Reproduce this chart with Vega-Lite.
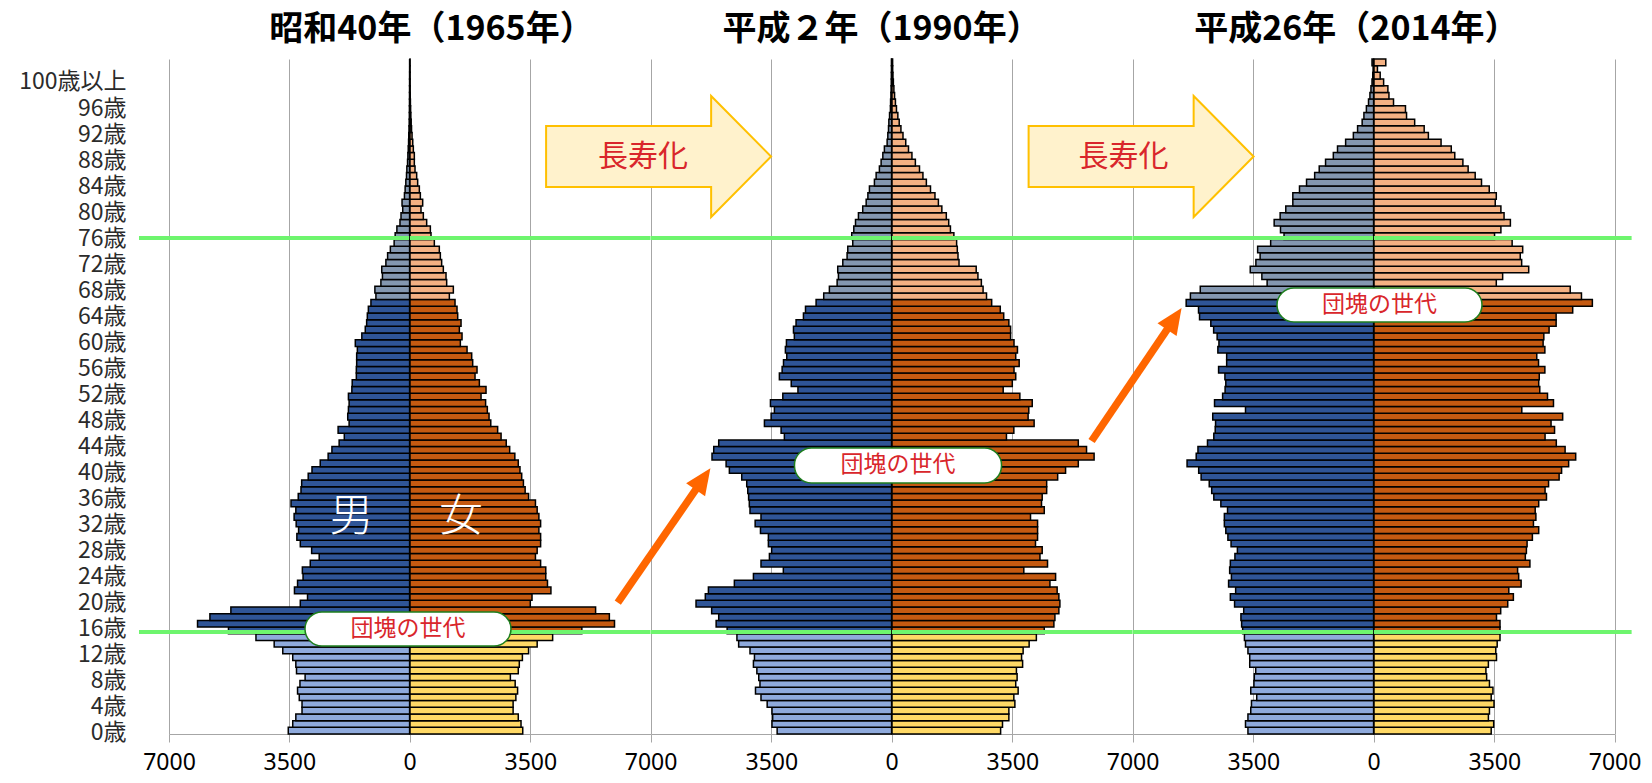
{
"$schema": "https://vega.github.io/schema/vega-lite/v6.json",
"padding": {"left": 18, "top": 12, "right": 0, "bottom": 12},
"background": "white",
"bounds": "flush",
"spacing": 0,
"config": {
  "font": "Noto Sans CJK JP",
  "numberFormat": "d",
  "view": {"stroke": null},
  "axisX": {"grid": true, "gridColor": "#A6A6A6", "gridWidth": 1, "domainColor": "#A6A6A6", "tickColor": "#A6A6A6", "tickSize": 8, "labelFontSize": 23, "labelFont": "Noto Sans", "labelColor": "#000000", "labelPadding": 9, "labelFlush": false, "labelOverlap": false, "labelBound": false}
},
"datasets": {"pop": [
{"year":1965,"sex":"M","age":0,"pop":3530},{"year":1965,"sex":"M","age":1,"pop":3400},{"year":1965,"sex":"M","age":2,"pop":3310},{"year":1965,"sex":"M","age":3,"pop":3130},{"year":1965,"sex":"M","age":4,"pop":3130},{"year":1965,"sex":"M","age":5,"pop":3210},{"year":1965,"sex":"M","age":6,"pop":3260},{"year":1965,"sex":"M","age":7,"pop":3190},{"year":1965,"sex":"M","age":8,"pop":3040},{"year":1965,"sex":"M","age":9,"pop":3290},
{"year":1965,"sex":"M","age":10,"pop":3310},{"year":1965,"sex":"M","age":11,"pop":3400},{"year":1965,"sex":"M","age":12,"pop":3690},{"year":1965,"sex":"M","age":13,"pop":3940},{"year":1965,"sex":"M","age":14,"pop":4470},{"year":1965,"sex":"M","age":15,"pop":5270},{"year":1965,"sex":"M","age":16,"pop":6170},{"year":1965,"sex":"M","age":17,"pop":5810},{"year":1965,"sex":"M","age":18,"pop":5200},{"year":1965,"sex":"M","age":19,"pop":3180},
{"year":1965,"sex":"M","age":20,"pop":2970},{"year":1965,"sex":"M","age":21,"pop":3350},{"year":1965,"sex":"M","age":22,"pop":3260},{"year":1965,"sex":"M","age":23,"pop":3100},{"year":1965,"sex":"M","age":24,"pop":3120},{"year":1965,"sex":"M","age":25,"pop":2890},{"year":1965,"sex":"M","age":26,"pop":2630},{"year":1965,"sex":"M","age":27,"pop":2850},{"year":1965,"sex":"M","age":28,"pop":3180},{"year":1965,"sex":"M","age":29,"pop":3280},
{"year":1965,"sex":"M","age":30,"pop":3230},{"year":1965,"sex":"M","age":31,"pop":3300},{"year":1965,"sex":"M","age":32,"pop":3360},{"year":1965,"sex":"M","age":33,"pop":3310},{"year":1965,"sex":"M","age":34,"pop":3450},{"year":1965,"sex":"M","age":35,"pop":3240},{"year":1965,"sex":"M","age":36,"pop":3160},{"year":1965,"sex":"M","age":37,"pop":3140},{"year":1965,"sex":"M","age":38,"pop":2950},{"year":1965,"sex":"M","age":39,"pop":2840},
{"year":1965,"sex":"M","age":40,"pop":2600},{"year":1965,"sex":"M","age":41,"pop":2370},{"year":1965,"sex":"M","age":42,"pop":2260},{"year":1965,"sex":"M","age":43,"pop":2050},{"year":1965,"sex":"M","age":44,"pop":1900},{"year":1965,"sex":"M","age":45,"pop":2080},{"year":1965,"sex":"M","age":46,"pop":1760},{"year":1965,"sex":"M","age":47,"pop":1800},{"year":1965,"sex":"M","age":48,"pop":1780},{"year":1965,"sex":"M","age":49,"pop":1760},
{"year":1965,"sex":"M","age":50,"pop":1780},{"year":1965,"sex":"M","age":51,"pop":1680},{"year":1965,"sex":"M","age":52,"pop":1670},{"year":1965,"sex":"M","age":53,"pop":1550},{"year":1965,"sex":"M","age":54,"pop":1550},{"year":1965,"sex":"M","age":55,"pop":1540},{"year":1965,"sex":"M","age":56,"pop":1540},{"year":1965,"sex":"M","age":57,"pop":1520},{"year":1965,"sex":"M","age":58,"pop":1580},{"year":1965,"sex":"M","age":59,"pop":1390},
{"year":1965,"sex":"M","age":60,"pop":1290},{"year":1965,"sex":"M","age":61,"pop":1250},{"year":1965,"sex":"M","age":62,"pop":1230},{"year":1965,"sex":"M","age":63,"pop":1200},{"year":1965,"sex":"M","age":64,"pop":1125},{"year":1965,"sex":"M","age":65,"pop":980},{"year":1965,"sex":"M","age":66,"pop":1010},{"year":1965,"sex":"M","age":67,"pop":835},{"year":1965,"sex":"M","age":68,"pop":790},{"year":1965,"sex":"M","age":69,"pop":810},
{"year":1965,"sex":"M","age":70,"pop":690},{"year":1965,"sex":"M","age":71,"pop":640},{"year":1965,"sex":"M","age":72,"pop":560},{"year":1965,"sex":"M","age":73,"pop":450},{"year":1965,"sex":"M","age":74,"pop":420},{"year":1965,"sex":"M","age":75,"pop":370},{"year":1965,"sex":"M","age":76,"pop":280},{"year":1965,"sex":"M","age":77,"pop":250},{"year":1965,"sex":"M","age":78,"pop":200},{"year":1965,"sex":"M","age":79,"pop":220},
{"year":1965,"sex":"M","age":80,"pop":150},{"year":1965,"sex":"M","age":81,"pop":130},{"year":1965,"sex":"M","age":82,"pop":110},{"year":1965,"sex":"M","age":83,"pop":90},{"year":1965,"sex":"M","age":84,"pop":80},{"year":1965,"sex":"M","age":85,"pop":60},{"year":1965,"sex":"M","age":86,"pop":50},{"year":1965,"sex":"M","age":87,"pop":40},{"year":1965,"sex":"M","age":88,"pop":30},{"year":1965,"sex":"M","age":89,"pop":25},
{"year":1965,"sex":"M","age":90,"pop":18},{"year":1965,"sex":"M","age":91,"pop":12},{"year":1965,"sex":"M","age":92,"pop":8},{"year":1965,"sex":"M","age":93,"pop":6},{"year":1965,"sex":"M","age":94,"pop":4},{"year":1965,"sex":"M","age":95,"pop":3},{"year":1965,"sex":"M","age":96,"pop":2},{"year":1965,"sex":"M","age":97,"pop":1},{"year":1965,"sex":"M","age":98,"pop":1},{"year":1965,"sex":"M","age":99,"pop":0},{"year":1965,"sex":"M","age":100,"pop":0},
{"year":1965,"sex":"F","age":0,"pop":3280},{"year":1965,"sex":"F","age":1,"pop":3230},{"year":1965,"sex":"F","age":2,"pop":3150},{"year":1965,"sex":"F","age":3,"pop":3000},{"year":1965,"sex":"F","age":4,"pop":3000},{"year":1965,"sex":"F","age":5,"pop":3080},{"year":1965,"sex":"F","age":6,"pop":3130},{"year":1965,"sex":"F","age":7,"pop":3060},{"year":1965,"sex":"F","age":8,"pop":2920},{"year":1965,"sex":"F","age":9,"pop":3150},
{"year":1965,"sex":"F","age":10,"pop":3180},{"year":1965,"sex":"F","age":11,"pop":3270},{"year":1965,"sex":"F","age":12,"pop":3450},{"year":1965,"sex":"F","age":13,"pop":3700},{"year":1965,"sex":"F","age":14,"pop":4150},{"year":1965,"sex":"F","age":15,"pop":5000},{"year":1965,"sex":"F","age":16,"pop":5950},{"year":1965,"sex":"F","age":17,"pop":5800},{"year":1965,"sex":"F","age":18,"pop":5400},{"year":1965,"sex":"F","age":19,"pop":3500},
{"year":1965,"sex":"F","age":20,"pop":3550},{"year":1965,"sex":"F","age":21,"pop":4100},{"year":1965,"sex":"F","age":22,"pop":4000},{"year":1965,"sex":"F","age":23,"pop":3950},{"year":1965,"sex":"F","age":24,"pop":3950},{"year":1965,"sex":"F","age":25,"pop":3800},{"year":1965,"sex":"F","age":26,"pop":3650},{"year":1965,"sex":"F","age":27,"pop":3700},{"year":1965,"sex":"F","age":28,"pop":3800},{"year":1965,"sex":"F","age":29,"pop":3800},
{"year":1965,"sex":"F","age":30,"pop":3750},{"year":1965,"sex":"F","age":31,"pop":3800},{"year":1965,"sex":"F","age":32,"pop":3750},{"year":1965,"sex":"F","age":33,"pop":3700},{"year":1965,"sex":"F","age":34,"pop":3650},{"year":1965,"sex":"F","age":35,"pop":3450},{"year":1965,"sex":"F","age":36,"pop":3350},{"year":1965,"sex":"F","age":37,"pop":3300},{"year":1965,"sex":"F","age":38,"pop":3250},{"year":1965,"sex":"F","age":39,"pop":3200},
{"year":1965,"sex":"F","age":40,"pop":3150},{"year":1965,"sex":"F","age":41,"pop":3050},{"year":1965,"sex":"F","age":42,"pop":2900},{"year":1965,"sex":"F","age":43,"pop":2800},{"year":1965,"sex":"F","age":44,"pop":2650},{"year":1965,"sex":"F","age":45,"pop":2550},{"year":1965,"sex":"F","age":46,"pop":2350},{"year":1965,"sex":"F","age":47,"pop":2300},{"year":1965,"sex":"F","age":48,"pop":2250},{"year":1965,"sex":"F","age":49,"pop":2200},
{"year":1965,"sex":"F","age":50,"pop":2067},{"year":1965,"sex":"F","age":51,"pop":2212},{"year":1965,"sex":"F","age":52,"pop":2018},{"year":1965,"sex":"F","age":53,"pop":1892},{"year":1965,"sex":"F","age":54,"pop":1950},{"year":1965,"sex":"F","age":55,"pop":1824},{"year":1965,"sex":"F","age":56,"pop":1795},{"year":1965,"sex":"F","age":57,"pop":1660},{"year":1965,"sex":"F","age":58,"pop":1465},{"year":1965,"sex":"F","age":59,"pop":1514},
{"year":1965,"sex":"F","age":60,"pop":1436},{"year":1965,"sex":"F","age":61,"pop":1485},{"year":1965,"sex":"F","age":62,"pop":1388},{"year":1965,"sex":"F","age":63,"pop":1368},{"year":1965,"sex":"F","age":64,"pop":1310},{"year":1965,"sex":"F","age":65,"pop":1145},{"year":1965,"sex":"F","age":66,"pop":1261},{"year":1965,"sex":"F","age":67,"pop":1067},{"year":1965,"sex":"F","age":68,"pop":1048},{"year":1965,"sex":"F","age":69,"pop":970},
{"year":1965,"sex":"F","age":70,"pop":921},{"year":1965,"sex":"F","age":71,"pop":883},{"year":1965,"sex":"F","age":72,"pop":853},{"year":1965,"sex":"F","age":73,"pop":708},{"year":1965,"sex":"F","age":74,"pop":611},{"year":1965,"sex":"F","age":75,"pop":592},{"year":1965,"sex":"F","age":76,"pop":485},{"year":1965,"sex":"F","age":77,"pop":388},{"year":1965,"sex":"F","age":78,"pop":320},{"year":1965,"sex":"F","age":79,"pop":369},
{"year":1965,"sex":"F","age":80,"pop":301},{"year":1965,"sex":"F","age":81,"pop":272},{"year":1965,"sex":"F","age":82,"pop":223},{"year":1965,"sex":"F","age":83,"pop":194},{"year":1965,"sex":"F","age":84,"pop":146},{"year":1965,"sex":"F","age":85,"pop":126},{"year":1965,"sex":"F","age":86,"pop":126},{"year":1965,"sex":"F","age":87,"pop":97},{"year":1965,"sex":"F","age":88,"pop":80},{"year":1965,"sex":"F","age":89,"pop":60},
{"year":1965,"sex":"F","age":90,"pop":45},{"year":1965,"sex":"F","age":91,"pop":35},{"year":1965,"sex":"F","age":92,"pop":25},{"year":1965,"sex":"F","age":93,"pop":18},{"year":1965,"sex":"F","age":94,"pop":12},{"year":1965,"sex":"F","age":95,"pop":8},{"year":1965,"sex":"F","age":96,"pop":5},{"year":1965,"sex":"F","age":97,"pop":3},{"year":1965,"sex":"F","age":98,"pop":2},{"year":1965,"sex":"F","age":99,"pop":1},{"year":1965,"sex":"F","age":100,"pop":1},
{"year":1990,"sex":"M","age":0,"pop":3330},{"year":1990,"sex":"M","age":1,"pop":3480},{"year":1990,"sex":"M","age":2,"pop":3460},{"year":1990,"sex":"M","age":3,"pop":3480},{"year":1990,"sex":"M","age":4,"pop":3620},{"year":1990,"sex":"M","age":5,"pop":3800},{"year":1990,"sex":"M","age":6,"pop":3960},{"year":1990,"sex":"M","age":7,"pop":3830},{"year":1990,"sex":"M","age":8,"pop":3865},{"year":1990,"sex":"M","age":9,"pop":3920},
{"year":1990,"sex":"M","age":10,"pop":4020},{"year":1990,"sex":"M","age":11,"pop":3990},{"year":1990,"sex":"M","age":12,"pop":4120},{"year":1990,"sex":"M","age":13,"pop":4450},{"year":1990,"sex":"M","age":14,"pop":4500},{"year":1990,"sex":"M","age":15,"pop":4785},{"year":1990,"sex":"M","age":16,"pop":5105},{"year":1990,"sex":"M","age":17,"pop":5030},{"year":1990,"sex":"M","age":18,"pop":5235},{"year":1990,"sex":"M","age":19,"pop":5690},
{"year":1990,"sex":"M","age":20,"pop":5420},{"year":1990,"sex":"M","age":21,"pop":5330},{"year":1990,"sex":"M","age":22,"pop":4575},{"year":1990,"sex":"M","age":23,"pop":4020},{"year":1990,"sex":"M","age":24,"pop":3150},{"year":1990,"sex":"M","age":25,"pop":3800},{"year":1990,"sex":"M","age":26,"pop":3555},{"year":1990,"sex":"M","age":27,"pop":3490},{"year":1990,"sex":"M","age":28,"pop":3585},{"year":1990,"sex":"M","age":29,"pop":3585},
{"year":1990,"sex":"M","age":30,"pop":3815},{"year":1990,"sex":"M","age":31,"pop":3970},{"year":1990,"sex":"M","age":32,"pop":3800},{"year":1990,"sex":"M","age":33,"pop":4120},{"year":1990,"sex":"M","age":34,"pop":4140},{"year":1990,"sex":"M","age":35,"pop":4160},{"year":1990,"sex":"M","age":36,"pop":4185},{"year":1990,"sex":"M","age":37,"pop":4215},{"year":1990,"sex":"M","age":38,"pop":4360},{"year":1990,"sex":"M","age":39,"pop":4720},
{"year":1990,"sex":"M","age":40,"pop":4815},{"year":1990,"sex":"M","age":41,"pop":5225},{"year":1990,"sex":"M","age":42,"pop":5175},{"year":1990,"sex":"M","age":43,"pop":5030},{"year":1990,"sex":"M","age":44,"pop":3120},{"year":1990,"sex":"M","age":45,"pop":3215},{"year":1990,"sex":"M","age":46,"pop":3700},{"year":1990,"sex":"M","age":47,"pop":3505},{"year":1990,"sex":"M","age":48,"pop":3410},{"year":1990,"sex":"M","age":49,"pop":3525},
{"year":1990,"sex":"M","age":50,"pop":3165},{"year":1990,"sex":"M","age":51,"pop":2725},{"year":1990,"sex":"M","age":52,"pop":2920},{"year":1990,"sex":"M","age":53,"pop":3265},{"year":1990,"sex":"M","age":54,"pop":3185},{"year":1990,"sex":"M","age":55,"pop":3145},{"year":1990,"sex":"M","age":56,"pop":3050},{"year":1990,"sex":"M","age":57,"pop":3090},{"year":1990,"sex":"M","age":58,"pop":3060},{"year":1990,"sex":"M","age":59,"pop":2830},
{"year":1990,"sex":"M","age":60,"pop":2855},{"year":1990,"sex":"M","age":61,"pop":2780},{"year":1990,"sex":"M","age":62,"pop":2565},{"year":1990,"sex":"M","age":63,"pop":2505},{"year":1990,"sex":"M","age":64,"pop":2197},{"year":1990,"sex":"M","age":65,"pop":1975},{"year":1990,"sex":"M","age":66,"pop":1810},{"year":1990,"sex":"M","age":67,"pop":1585},{"year":1990,"sex":"M","age":68,"pop":1547},{"year":1990,"sex":"M","age":69,"pop":1567},
{"year":1990,"sex":"M","age":70,"pop":1420},{"year":1990,"sex":"M","age":71,"pop":1295},{"year":1990,"sex":"M","age":72,"pop":1275},{"year":1990,"sex":"M","age":73,"pop":1130},{"year":1990,"sex":"M","age":74,"pop":1160},{"year":1990,"sex":"M","age":75,"pop":1100},{"year":1990,"sex":"M","age":76,"pop":1050},{"year":1990,"sex":"M","age":77,"pop":965},{"year":1990,"sex":"M","age":78,"pop":840},{"year":1990,"sex":"M","age":79,"pop":740},
{"year":1990,"sex":"M","age":80,"pop":690},{"year":1990,"sex":"M","age":81,"pop":645},{"year":1990,"sex":"M","age":82,"pop":500},{"year":1990,"sex":"M","age":83,"pop":450},{"year":1990,"sex":"M","age":84,"pop":355},{"year":1990,"sex":"M","age":85,"pop":305},{"year":1990,"sex":"M","age":86,"pop":255},{"year":1990,"sex":"M","age":87,"pop":210},{"year":1990,"sex":"M","age":88,"pop":130},{"year":1990,"sex":"M","age":89,"pop":110},
{"year":1990,"sex":"M","age":90,"pop":90},{"year":1990,"sex":"M","age":91,"pop":80},{"year":1990,"sex":"M","age":92,"pop":60},{"year":1990,"sex":"M","age":93,"pop":35},{"year":1990,"sex":"M","age":94,"pop":30},{"year":1990,"sex":"M","age":95,"pop":20},{"year":1990,"sex":"M","age":96,"pop":15},{"year":1990,"sex":"M","age":97,"pop":10},{"year":1990,"sex":"M","age":98,"pop":8},{"year":1990,"sex":"M","age":99,"pop":5},{"year":1990,"sex":"M","age":100,"pop":5},
{"year":1990,"sex":"F","age":0,"pop":3160},{"year":1990,"sex":"F","age":1,"pop":3215},{"year":1990,"sex":"F","age":2,"pop":3400},{"year":1990,"sex":"F","age":3,"pop":3400},{"year":1990,"sex":"F","age":4,"pop":3575},{"year":1990,"sex":"F","age":5,"pop":3545},{"year":1990,"sex":"F","age":6,"pop":3670},{"year":1990,"sex":"F","age":7,"pop":3600},{"year":1990,"sex":"F","age":8,"pop":3640},{"year":1990,"sex":"F","age":9,"pop":3620},
{"year":1990,"sex":"F","age":10,"pop":3800},{"year":1990,"sex":"F","age":11,"pop":3770},{"year":1990,"sex":"F","age":12,"pop":3815},{"year":1990,"sex":"F","age":13,"pop":3990},{"year":1990,"sex":"F","age":14,"pop":4200},{"year":1990,"sex":"F","age":15,"pop":4430},{"year":1990,"sex":"F","age":16,"pop":4710},{"year":1990,"sex":"F","age":17,"pop":4740},{"year":1990,"sex":"F","age":18,"pop":4855},{"year":1990,"sex":"F","age":19,"pop":4885},
{"year":1990,"sex":"F","age":20,"pop":4855},{"year":1990,"sex":"F","age":21,"pop":4805},{"year":1990,"sex":"F","age":22,"pop":4595},{"year":1990,"sex":"F","age":23,"pop":4760},{"year":1990,"sex":"F","age":24,"pop":3835},{"year":1990,"sex":"F","age":25,"pop":4525},{"year":1990,"sex":"F","age":26,"pop":4305},{"year":1990,"sex":"F","age":27,"pop":4370},{"year":1990,"sex":"F","age":28,"pop":4175},{"year":1990,"sex":"F","age":29,"pop":4235},
{"year":1990,"sex":"F","age":30,"pop":4235},{"year":1990,"sex":"F","age":31,"pop":4235},{"year":1990,"sex":"F","age":32,"pop":4030},{"year":1990,"sex":"F","age":33,"pop":4430},{"year":1990,"sex":"F","age":34,"pop":4350},{"year":1990,"sex":"F","age":35,"pop":4370},{"year":1990,"sex":"F","age":36,"pop":4500},{"year":1990,"sex":"F","age":37,"pop":4500},{"year":1990,"sex":"F","age":38,"pop":4820},{"year":1990,"sex":"F","age":39,"pop":5050},
{"year":1990,"sex":"F","age":40,"pop":5420},{"year":1990,"sex":"F","age":41,"pop":5880},{"year":1990,"sex":"F","age":42,"pop":5660},{"year":1990,"sex":"F","age":43,"pop":5420},{"year":1990,"sex":"F","age":44,"pop":3330},{"year":1990,"sex":"F","age":45,"pop":3545},{"year":1990,"sex":"F","age":46,"pop":4135},{"year":1990,"sex":"F","age":47,"pop":3960},{"year":1990,"sex":"F","age":48,"pop":3980},{"year":1990,"sex":"F","age":49,"pop":4080},
{"year":1990,"sex":"F","age":50,"pop":3720},{"year":1990,"sex":"F","age":51,"pop":3235},{"year":1990,"sex":"F","age":52,"pop":3500},{"year":1990,"sex":"F","age":53,"pop":3600},{"year":1990,"sex":"F","age":54,"pop":3550},{"year":1990,"sex":"F","age":55,"pop":3700},{"year":1990,"sex":"F","age":56,"pop":3600},{"year":1990,"sex":"F","age":57,"pop":3650},{"year":1990,"sex":"F","age":58,"pop":3550},{"year":1990,"sex":"F","age":59,"pop":3450},
{"year":1990,"sex":"F","age":60,"pop":3450},{"year":1990,"sex":"F","age":61,"pop":3400},{"year":1990,"sex":"F","age":62,"pop":3250},{"year":1990,"sex":"F","age":63,"pop":3150},{"year":1990,"sex":"F","age":64,"pop":2900},{"year":1990,"sex":"F","age":65,"pop":2750},{"year":1990,"sex":"F","age":66,"pop":2650},{"year":1990,"sex":"F","age":67,"pop":2600},{"year":1990,"sex":"F","age":68,"pop":2500},{"year":1990,"sex":"F","age":69,"pop":2450},
{"year":1990,"sex":"F","age":70,"pop":1950},{"year":1990,"sex":"F","age":71,"pop":1920},{"year":1990,"sex":"F","age":72,"pop":1900},{"year":1990,"sex":"F","age":73,"pop":1880},{"year":1990,"sex":"F","age":74,"pop":1800},{"year":1990,"sex":"F","age":75,"pop":1700},{"year":1990,"sex":"F","age":76,"pop":1650},{"year":1990,"sex":"F","age":77,"pop":1580},{"year":1990,"sex":"F","age":78,"pop":1450},{"year":1990,"sex":"F","age":79,"pop":1350},
{"year":1990,"sex":"F","age":80,"pop":1250},{"year":1990,"sex":"F","age":81,"pop":1120},{"year":1990,"sex":"F","age":82,"pop":1000},{"year":1990,"sex":"F","age":83,"pop":900},{"year":1990,"sex":"F","age":84,"pop":800},{"year":1990,"sex":"F","age":85,"pop":680},{"year":1990,"sex":"F","age":86,"pop":580},{"year":1990,"sex":"F","age":87,"pop":480},{"year":1990,"sex":"F","age":88,"pop":400},{"year":1990,"sex":"F","age":89,"pop":320},
{"year":1990,"sex":"F","age":90,"pop":260},{"year":1990,"sex":"F","age":91,"pop":210},{"year":1990,"sex":"F","age":92,"pop":170},{"year":1990,"sex":"F","age":93,"pop":130},{"year":1990,"sex":"F","age":94,"pop":100},{"year":1990,"sex":"F","age":95,"pop":75},{"year":1990,"sex":"F","age":96,"pop":55},{"year":1990,"sex":"F","age":97,"pop":40},{"year":1990,"sex":"F","age":98,"pop":28},{"year":1990,"sex":"F","age":99,"pop":20},{"year":1990,"sex":"F","age":100,"pop":18},
{"year":2014,"sex":"M","age":0,"pop":3656},{"year":2014,"sex":"M","age":1,"pop":3727},{"year":2014,"sex":"M","age":2,"pop":3656},{"year":2014,"sex":"M","age":3,"pop":3574},{"year":2014,"sex":"M","age":4,"pop":3553},{"year":2014,"sex":"M","age":5,"pop":3400},{"year":2014,"sex":"M","age":6,"pop":3574},{"year":2014,"sex":"M","age":7,"pop":3482},{"year":2014,"sex":"M","age":8,"pop":3471},{"year":2014,"sex":"M","age":9,"pop":3430},
{"year":2014,"sex":"M","age":10,"pop":3604},{"year":2014,"sex":"M","age":11,"pop":3604},{"year":2014,"sex":"M","age":12,"pop":3656},{"year":2014,"sex":"M","age":13,"pop":3727},{"year":2014,"sex":"M","age":14,"pop":3758},{"year":2014,"sex":"M","age":15,"pop":3810},{"year":2014,"sex":"M","age":16,"pop":3840},{"year":2014,"sex":"M","age":17,"pop":3860},{"year":2014,"sex":"M","age":18,"pop":3779},{"year":2014,"sex":"M","age":19,"pop":4045},
{"year":2014,"sex":"M","age":20,"pop":4168},{"year":2014,"sex":"M","age":21,"pop":4014},{"year":2014,"sex":"M","age":22,"pop":4219},{"year":2014,"sex":"M","age":23,"pop":4137},{"year":2014,"sex":"M","age":24,"pop":4188},{"year":2014,"sex":"M","age":25,"pop":4168},{"year":2014,"sex":"M","age":26,"pop":4035},{"year":2014,"sex":"M","age":27,"pop":3963},{"year":2014,"sex":"M","age":28,"pop":4147},{"year":2014,"sex":"M","age":29,"pop":4239},
{"year":2014,"sex":"M","age":30,"pop":4300},{"year":2014,"sex":"M","age":31,"pop":4342},{"year":2014,"sex":"M","age":32,"pop":4342},{"year":2014,"sex":"M","age":33,"pop":4250},{"year":2014,"sex":"M","age":34,"pop":4444},{"year":2014,"sex":"M","age":35,"pop":4649},{"year":2014,"sex":"M","age":36,"pop":4710},{"year":2014,"sex":"M","age":37,"pop":4782},{"year":2014,"sex":"M","age":38,"pop":5018},{"year":2014,"sex":"M","age":39,"pop":5089},
{"year":2014,"sex":"M","age":40,"pop":5427},{"year":2014,"sex":"M","age":41,"pop":5161},{"year":2014,"sex":"M","age":42,"pop":5110},{"year":2014,"sex":"M","age":43,"pop":4833},{"year":2014,"sex":"M","age":44,"pop":4649},{"year":2014,"sex":"M","age":45,"pop":4608},{"year":2014,"sex":"M","age":46,"pop":4598},{"year":2014,"sex":"M","age":47,"pop":4680},{"year":2014,"sex":"M","age":48,"pop":3727},{"year":2014,"sex":"M","age":49,"pop":4628},
{"year":2014,"sex":"M","age":50,"pop":4393},{"year":2014,"sex":"M","age":51,"pop":4321},{"year":2014,"sex":"M","age":52,"pop":4300},{"year":2014,"sex":"M","age":53,"pop":4326},{"year":2014,"sex":"M","age":54,"pop":4510},{"year":2014,"sex":"M","age":55,"pop":4275},{"year":2014,"sex":"M","age":56,"pop":4275},{"year":2014,"sex":"M","age":57,"pop":4531},{"year":2014,"sex":"M","age":58,"pop":4500},{"year":2014,"sex":"M","age":59,"pop":4552},
{"year":2014,"sex":"M","age":60,"pop":4654},{"year":2014,"sex":"M","age":61,"pop":4736},{"year":2014,"sex":"M","age":62,"pop":5064},{"year":2014,"sex":"M","age":63,"pop":5094},{"year":2014,"sex":"M","age":64,"pop":5453},{"year":2014,"sex":"M","age":65,"pop":5330},{"year":2014,"sex":"M","age":66,"pop":5043},{"year":2014,"sex":"M","age":67,"pop":3098},{"year":2014,"sex":"M","age":68,"pop":3251},{"year":2014,"sex":"M","age":69,"pop":3589},
{"year":2014,"sex":"M","age":70,"pop":3425},{"year":2014,"sex":"M","age":71,"pop":3302},{"year":2014,"sex":"M","age":72,"pop":3374},{"year":2014,"sex":"M","age":73,"pop":2995},{"year":2014,"sex":"M","age":74,"pop":2606},{"year":2014,"sex":"M","age":75,"pop":2709},{"year":2014,"sex":"M","age":76,"pop":2893},{"year":2014,"sex":"M","age":77,"pop":2719},{"year":2014,"sex":"M","age":78,"pop":2555},{"year":2014,"sex":"M","age":79,"pop":2350},
{"year":2014,"sex":"M","age":80,"pop":2350},{"year":2014,"sex":"M","age":81,"pop":2156},{"year":2014,"sex":"M","age":82,"pop":1951},{"year":2014,"sex":"M","age":83,"pop":1715},{"year":2014,"sex":"M","age":84,"pop":1582},{"year":2014,"sex":"M","age":85,"pop":1398},{"year":2014,"sex":"M","age":86,"pop":1172},{"year":2014,"sex":"M","age":87,"pop":1050},{"year":2014,"sex":"M","age":88,"pop":814},{"year":2014,"sex":"M","age":89,"pop":589},
{"year":2014,"sex":"M","age":90,"pop":466},{"year":2014,"sex":"M","age":91,"pop":333},{"year":2014,"sex":"M","age":92,"pop":282},{"year":2014,"sex":"M","age":93,"pop":210},{"year":2014,"sex":"M","age":94,"pop":148},{"year":2014,"sex":"M","age":95,"pop":107},{"year":2014,"sex":"M","age":96,"pop":77},{"year":2014,"sex":"M","age":97,"pop":46},{"year":2014,"sex":"M","age":98,"pop":25},{"year":2014,"sex":"M","age":99,"pop":15},{"year":2014,"sex":"M","age":100,"pop":46},
{"year":2014,"sex":"F","age":0,"pop":3410},{"year":2014,"sex":"F","age":1,"pop":3482},{"year":2014,"sex":"F","age":2,"pop":3328},{"year":2014,"sex":"F","age":3,"pop":3359},{"year":2014,"sex":"F","age":4,"pop":3492},{"year":2014,"sex":"F","age":5,"pop":3410},{"year":2014,"sex":"F","age":6,"pop":3461},{"year":2014,"sex":"F","age":7,"pop":3359},{"year":2014,"sex":"F","age":8,"pop":3277},{"year":2014,"sex":"F","age":9,"pop":3256},
{"year":2014,"sex":"F","age":10,"pop":3328},{"year":2014,"sex":"F","age":11,"pop":3564},{"year":2014,"sex":"F","age":12,"pop":3543},{"year":2014,"sex":"F","age":13,"pop":3584},{"year":2014,"sex":"F","age":14,"pop":3666},{"year":2014,"sex":"F","age":15,"pop":3666},{"year":2014,"sex":"F","age":16,"pop":3666},{"year":2014,"sex":"F","age":17,"pop":3564},{"year":2014,"sex":"F","age":18,"pop":3686},{"year":2014,"sex":"F","age":19,"pop":3891},
{"year":2014,"sex":"F","age":20,"pop":4055},{"year":2014,"sex":"F","age":21,"pop":3922},{"year":2014,"sex":"F","age":22,"pop":4280},{"year":2014,"sex":"F","age":23,"pop":4209},{"year":2014,"sex":"F","age":24,"pop":4178},{"year":2014,"sex":"F","age":25,"pop":4536},{"year":2014,"sex":"F","age":26,"pop":4403},{"year":2014,"sex":"F","age":27,"pop":4434},{"year":2014,"sex":"F","age":28,"pop":4454},{"year":2014,"sex":"F","age":29,"pop":4608},
{"year":2014,"sex":"F","age":30,"pop":4792},{"year":2014,"sex":"F","age":31,"pop":4639},{"year":2014,"sex":"F","age":32,"pop":4710},{"year":2014,"sex":"F","age":33,"pop":4690},{"year":2014,"sex":"F","age":34,"pop":4792},{"year":2014,"sex":"F","age":35,"pop":5018},{"year":2014,"sex":"F","age":36,"pop":4977},{"year":2014,"sex":"F","age":37,"pop":5079},{"year":2014,"sex":"F","age":38,"pop":5386},{"year":2014,"sex":"F","age":39,"pop":5458},
{"year":2014,"sex":"F","age":40,"pop":5663},{"year":2014,"sex":"F","age":41,"pop":5868},{"year":2014,"sex":"F","age":42,"pop":5560},{"year":2014,"sex":"F","age":43,"pop":5304},{"year":2014,"sex":"F","age":44,"pop":4977},{"year":2014,"sex":"F","age":45,"pop":5253},{"year":2014,"sex":"F","age":46,"pop":5151},{"year":2014,"sex":"F","age":47,"pop":5489},{"year":2014,"sex":"F","age":48,"pop":4300},{"year":2014,"sex":"F","age":49,"pop":5222},
{"year":2014,"sex":"F","age":50,"pop":5048},{"year":2014,"sex":"F","age":51,"pop":4823},{"year":2014,"sex":"F","age":52,"pop":4792},{"year":2014,"sex":"F","age":53,"pop":4808},{"year":2014,"sex":"F","age":54,"pop":4971},{"year":2014,"sex":"F","age":55,"pop":4787},{"year":2014,"sex":"F","age":56,"pop":4736},{"year":2014,"sex":"F","age":57,"pop":4971},{"year":2014,"sex":"F","age":58,"pop":4920},{"year":2014,"sex":"F","age":59,"pop":4941},
{"year":2014,"sex":"F","age":60,"pop":5094},{"year":2014,"sex":"F","age":61,"pop":5299},{"year":2014,"sex":"F","age":62,"pop":5299},{"year":2014,"sex":"F","age":63,"pop":5781},{"year":2014,"sex":"F","age":64,"pop":6353},{"year":2014,"sex":"F","age":65,"pop":6036},{"year":2014,"sex":"F","age":66,"pop":5709},{"year":2014,"sex":"F","age":67,"pop":3558},{"year":2014,"sex":"F","age":68,"pop":3743},{"year":2014,"sex":"F","age":69,"pop":4501},
{"year":2014,"sex":"F","age":70,"pop":4296},{"year":2014,"sex":"F","age":71,"pop":4255},{"year":2014,"sex":"F","age":72,"pop":4326},{"year":2014,"sex":"F","age":73,"pop":4019},{"year":2014,"sex":"F","age":74,"pop":3507},{"year":2014,"sex":"F","age":75,"pop":3692},{"year":2014,"sex":"F","age":76,"pop":3968},{"year":2014,"sex":"F","age":77,"pop":3784},{"year":2014,"sex":"F","age":78,"pop":3692},{"year":2014,"sex":"F","age":79,"pop":3527},
{"year":2014,"sex":"F","age":80,"pop":3558},{"year":2014,"sex":"F","age":81,"pop":3353},{"year":2014,"sex":"F","age":82,"pop":3128},{"year":2014,"sex":"F","age":83,"pop":2944},{"year":2014,"sex":"F","age":84,"pop":2739},{"year":2014,"sex":"F","age":85,"pop":2586},{"year":2014,"sex":"F","age":86,"pop":2350},{"year":2014,"sex":"F","age":87,"pop":2248},{"year":2014,"sex":"F","age":88,"pop":1951},{"year":2014,"sex":"F","age":89,"pop":1582},
{"year":2014,"sex":"F","age":90,"pop":1460},{"year":2014,"sex":"F","age":91,"pop":1183},{"year":2014,"sex":"F","age":92,"pop":947},{"year":2014,"sex":"F","age":93,"pop":916},{"year":2014,"sex":"F","age":94,"pop":568},{"year":2014,"sex":"F","age":95,"pop":435},{"year":2014,"sex":"F","age":96,"pop":404},{"year":2014,"sex":"F","age":97,"pop":280},{"year":2014,"sex":"F","age":98,"pop":180},{"year":2014,"sex":"F","age":99,"pop":100},{"year":2014,"sex":"F","age":100,"pop":343}
]},
"resolve": {"scale": {"x": "independent", "y": "independent"}},
"hconcat": [
  {
   "width": 240.6, "height": 675,
   "resolve": {"scale": {"y": "independent"}},
   "layer": [
    {"data": {"name": "pop"}, "transform": [{"filter": "datum.year == 1965 && datum.sex == 'M'"}],
     "mark": {"type": "bar", "stroke": "#000000", "strokeWidth": 1.5},
     "encoding": {
      "y": {"field": "age", "type": "ordinal", "sort": "descending", "scale": {"paddingInner": 0, "paddingOuter": 0}, "axis": null},
      "x": {"field": "pop", "type": "quantitative", "scale": {"domain": [0, 7000], "reverse": true, "nice": false}, "axis": {"values": [7000, 3500, 0], "title": null}},
      "fill": {"condition": [{"test": "datum.age < 15", "value": "#8FAADC"}, {"test": "datum.age >= 65", "value": "#8497B0"}], "value": "#2F5597"}
     }},
    {"data": {"values": [{}]}, "mark": {"type": "rule", "color": "#6EF56E", "strokeWidth": 4},
     "encoding": {
      "x": {"datum": 7873, "type": "quantitative", "scale": {"domain": [0, 7000], "reverse": true, "nice": false}},
      "x2": {"datum": 0},
      "y": {"datum": 76.03, "type": "quantitative", "scale": {"domain": [-0.16, 103.53], "nice": false, "zero": false},
            "axis": {"orient": "left", "values": [0,4,8,12,16,20,24,28,32,36,40,44,48,52,56,60,64,68,72,76,80,84,88,92,96,100], "labelExpr": "datum.value == 100 ? '100歳以上' : datum.value + '歳'", "grid": false, "ticks": false, "domain": false, "labelFontSize": 23, "labelColor": "#2B2B2B", "labelPadding": 43, "title": null, "labelFont": "Noto Sans CJK JP", "labelOverlap": false, "labelFlush": false, "labelBound": false}}
     }},
    {"data": {"values": [{}]}, "mark": {"type": "rule", "color": "#6EF56E", "strokeWidth": 4},
     "encoding": {
      "x": {"datum": 7873, "type": "quantitative", "scale": {"domain": [0, 7000], "reverse": true, "nice": false}},
      "x2": {"datum": 0},
      "y": {"datum": 15.51, "type": "quantitative", "scale": {"domain": [-0.16, 103.53], "nice": false, "zero": false}, "axis": null}
     }},
    {"data": {"values": [{}]}, "mark": {"type": "text", "text": "男", "fontSize": 44, "fontWeight": 300, "color": "#FFFFFF", "align": "center", "baseline": "middle"},
     "encoding": {
      "x": {"datum": 1687, "type": "quantitative", "scale": {"domain": [0, 7000], "reverse": true, "nice": false}},
      "y": {"datum": 33.02, "type": "quantitative", "scale": {"domain": [-0.16, 103.53], "nice": false, "zero": false}, "axis": null}
     }}
   ]
  },
  {
   "width": 240.6, "height": 675,
   "resolve": {"scale": {"y": "independent"}},
   "layer": [
    {"data": {"name": "pop"}, "transform": [{"filter": "datum.year == 1965 && datum.sex == 'F'"}],
     "mark": {"type": "bar", "stroke": "#000000", "strokeWidth": 1.5},
     "encoding": {
      "y": {"field": "age", "type": "ordinal", "sort": "descending", "scale": {"paddingInner": 0, "paddingOuter": 0}, "axis": null},
      "x": {"field": "pop", "type": "quantitative", "scale": {"domain": [0, 7000], "nice": false}, "axis": {"values": [3500, 7000], "title": null}},
      "fill": {"condition": [{"test": "datum.age < 15", "value": "#FFD966"}, {"test": "datum.age >= 65", "value": "#F4B183"}], "value": "#C55A11"}
     }},
    {"data": {"values": [{}]}, "mark": {"type": "rule", "color": "#6EF56E", "strokeWidth": 4},
     "encoding": {"y": {"datum": 76.03, "type": "quantitative", "scale": {"domain": [-0.16, 103.53], "nice": false, "zero": false}, "axis": null}}},
    {"data": {"values": [{}]}, "mark": {"type": "rule", "color": "#6EF56E", "strokeWidth": 4},
     "encoding": {"y": {"datum": 15.51, "type": "quantitative", "scale": {"domain": [-0.16, 103.53], "nice": false, "zero": false}, "axis": null}}},
    {"data": {"values": [{}]}, "mark": {"type": "rect", "fill": "#FFFFFF", "stroke": "#1E7F1E", "strokeWidth": 1.5, "cornerRadius": 17},
     "encoding": {
      "x": {"datum": -3055, "type": "quantitative", "scale": {"domain": [0, 7000], "nice": false}},
      "x2": {"datum": 2938},
      "y": {"datum": 18.58, "type": "quantitative", "scale": {"domain": [-0.16, 103.53], "nice": false, "zero": false}, "axis": null},
      "y2": {"datum": 13.36}
     }},
    {"data": {"values": [{}]}, "mark": {"type": "text", "text": "団塊の世代", "fontSize": 23, "color": "#D9262B", "align": "center", "baseline": "middle"},
     "encoding": {
      "x": {"datum": -58, "type": "quantitative", "scale": {"domain": [0, 7000], "nice": false}},
      "y": {"datum": 15.97, "type": "quantitative", "scale": {"domain": [-0.16, 103.53], "nice": false, "zero": false}, "axis": null}
     }},
    {"data": {"values": [{}]}, "mark": {"type": "text", "text": "女", "fontSize": 44, "fontWeight": 300, "color": "#FFFFFF", "align": "center", "baseline": "middle"},
     "encoding": {
      "x": {"datum": 1484, "type": "quantitative", "scale": {"domain": [0, 7000], "nice": false}},
      "y": {"datum": 33.02, "type": "quantitative", "scale": {"domain": [-0.16, 103.53], "nice": false, "zero": false}, "axis": null}
     }},
    {"data": {"values": [{}]}, "mark": {"type": "text", "text": "昭和40年（1965年）", "fontSize": 34, "fontWeight": "bold", "color": "#000000", "align": "center", "baseline": "middle"},
     "encoding": {
      "x": {"datum": 625, "type": "quantitative", "scale": {"domain": [0, 7000], "nice": false}},
      "y": {"datum": 108.0, "type": "quantitative", "scale": {"domain": [-0.16, 103.53], "nice": false, "zero": false}, "axis": null}
     }}
   ]
  },
  {
   "width": 240.6, "height": 675,
   "resolve": {"scale": {"y": "independent"}},
   "layer": [
    {"data": {"name": "pop"}, "transform": [{"filter": "datum.year == 1990 && datum.sex == 'M'"}],
     "mark": {"type": "bar", "stroke": "#000000", "strokeWidth": 1.5},
     "encoding": {
      "y": {"field": "age", "type": "ordinal", "sort": "descending", "scale": {"paddingInner": 0, "paddingOuter": 0}, "axis": null},
      "x": {"field": "pop", "type": "quantitative", "scale": {"domain": [0, 7000], "reverse": true, "nice": false}, "axis": {"values": [3500, 0], "title": null}},
      "fill": {"condition": [{"test": "datum.age < 15", "value": "#8FAADC"}, {"test": "datum.age >= 65", "value": "#8497B0"}], "value": "#2F5597"}
     }},
    {"data": {"values": [{}]}, "mark": {"type": "rule", "color": "#6EF56E", "strokeWidth": 4},
     "encoding": {"y": {"datum": 76.03, "type": "quantitative", "scale": {"domain": [-0.16, 103.53], "nice": false, "zero": false}, "axis": null}}},
    {"data": {"values": [{}]}, "mark": {"type": "rule", "color": "#6EF56E", "strokeWidth": 4},
     "encoding": {"y": {"datum": 15.51, "type": "quantitative", "scale": {"domain": [-0.16, 103.53], "nice": false, "zero": false}, "axis": null}}},
    {"data": {"values": [{}]}, "mark": {"type": "point", "shape": "M-1,-0.271L0.467,-0.271L0.467,-0.538L1,0L0.467,0.538L0.467,0.271L-1,0.271Z", "size": 50625, "filled": true, "fill": "#FFF2CC", "stroke": "#FFC000", "strokeWidth": 2, "opacity": 1},
     "encoding": {
      "x": {"datum": 6779, "type": "quantitative", "scale": {"domain": [0, 7000], "reverse": true, "nice": false}},
      "y": {"datum": 88.55, "type": "quantitative", "scale": {"domain": [-0.16, 103.53], "nice": false, "zero": false}, "axis": null}
     }},
    {"data": {"values": [{}]}, "mark": {"type": "text", "text": "長寿化", "fontSize": 30, "color": "#D9262B", "align": "center", "baseline": "middle"},
     "encoding": {
      "x": {"datum": 7230, "type": "quantitative", "scale": {"domain": [0, 7000], "reverse": true, "nice": false}},
      "y": {"datum": 88.5, "type": "quantitative", "scale": {"domain": [-0.16, 103.53], "nice": false, "zero": false}, "axis": null}
     }},
    {"data": {"values": [{}]}, "mark": {"type": "rule", "color": "#FF6600", "strokeWidth": 7.5, "strokeCap": "butt"},
     "encoding": {
      "x": {"datum": 7966, "type": "quantitative", "scale": {"domain": [0, 7000], "reverse": true, "nice": false}},
      "x2": {"datum": 5668},
      "y": {"datum": 20.01, "type": "quantitative", "scale": {"domain": [-0.16, 103.53], "nice": false, "zero": false}, "axis": null},
      "y2": {"datum": 37.61}
     }},
    {"data": {"values": [{}]}, "mark": {"type": "point", "shape": "M0,-1L0.885,1L-0.885,1Z", "size": 676, "angle": 34.6, "filled": true, "fill": "#FF6600", "strokeWidth": 0, "opacity": 1},
     "encoding": {
      "x": {"datum": 5487, "type": "quantitative", "scale": {"domain": [0, 7000], "reverse": true, "nice": false}},
      "y": {"datum": 39.01, "type": "quantitative", "scale": {"domain": [-0.16, 103.53], "nice": false, "zero": false}, "axis": null}
     }}
   ]
  },
  {
   "width": 240.6, "height": 675,
   "resolve": {"scale": {"y": "independent"}},
   "layer": [
    {"data": {"name": "pop"}, "transform": [{"filter": "datum.year == 1990 && datum.sex == 'F'"}],
     "mark": {"type": "bar", "stroke": "#000000", "strokeWidth": 1.5},
     "encoding": {
      "y": {"field": "age", "type": "ordinal", "sort": "descending", "scale": {"paddingInner": 0, "paddingOuter": 0}, "axis": null},
      "x": {"field": "pop", "type": "quantitative", "scale": {"domain": [0, 7000], "nice": false}, "axis": {"values": [3500, 7000], "title": null}},
      "fill": {"condition": [{"test": "datum.age < 15", "value": "#FFD966"}, {"test": "datum.age >= 65", "value": "#F4B183"}], "value": "#C55A11"}
     }},
    {"data": {"values": [{}]}, "mark": {"type": "rule", "color": "#6EF56E", "strokeWidth": 4},
     "encoding": {"y": {"datum": 76.03, "type": "quantitative", "scale": {"domain": [-0.16, 103.53], "nice": false, "zero": false}, "axis": null}}},
    {"data": {"values": [{}]}, "mark": {"type": "rule", "color": "#6EF56E", "strokeWidth": 4},
     "encoding": {"y": {"datum": 15.51, "type": "quantitative", "scale": {"domain": [-0.16, 103.53], "nice": false, "zero": false}, "axis": null}}},
    {"data": {"values": [{}]}, "mark": {"type": "rect", "fill": "#FFFFFF", "stroke": "#1E7F1E", "strokeWidth": 1.5, "cornerRadius": 17},
     "encoding": {
      "x": {"datum": -2837, "type": "quantitative", "scale": {"domain": [0, 7000], "nice": false}},
      "x2": {"datum": 3186},
      "y": {"datum": 43.78, "type": "quantitative", "scale": {"domain": [-0.16, 103.53], "nice": false, "zero": false}, "axis": null},
      "y2": {"datum": 38.4}
     }},
    {"data": {"values": [{}]}, "mark": {"type": "text", "text": "団塊の世代", "fontSize": 23, "color": "#D9262B", "align": "center", "baseline": "middle"},
     "encoding": {
      "x": {"datum": 174, "type": "quantitative", "scale": {"domain": [0, 7000], "nice": false}},
      "y": {"datum": 41.09, "type": "quantitative", "scale": {"domain": [-0.16, 103.53], "nice": false, "zero": false}, "axis": null}
     }},
    {"data": {"values": [{}]}, "mark": {"type": "text", "text": "平成２年（1990年）", "fontSize": 34, "fontWeight": "bold", "color": "#000000", "align": "center", "baseline": "middle"},
     "encoding": {
      "x": {"datum": -305, "type": "quantitative", "scale": {"domain": [0, 7000], "nice": false}},
      "y": {"datum": 108.0, "type": "quantitative", "scale": {"domain": [-0.16, 103.53], "nice": false, "zero": false}, "axis": null}
     }}
   ]
  },
  {
   "width": 240.6, "height": 675,
   "resolve": {"scale": {"y": "independent"}},
   "layer": [
    {"data": {"name": "pop"}, "transform": [{"filter": "datum.year == 2014 && datum.sex == 'M'"}],
     "mark": {"type": "bar", "stroke": "#000000", "strokeWidth": 1.5},
     "encoding": {
      "y": {"field": "age", "type": "ordinal", "sort": "descending", "scale": {"paddingInner": 0, "paddingOuter": 0}, "axis": null},
      "x": {"field": "pop", "type": "quantitative", "scale": {"domain": [0, 7000], "reverse": true, "nice": false}, "axis": {"values": [3500, 0], "title": null}},
      "fill": {"condition": [{"test": "datum.age < 15", "value": "#8FAADC"}, {"test": "datum.age >= 65", "value": "#8497B0"}], "value": "#2F5597"}
     }},
    {"data": {"values": [{}]}, "mark": {"type": "rule", "color": "#6EF56E", "strokeWidth": 4},
     "encoding": {"y": {"datum": 76.03, "type": "quantitative", "scale": {"domain": [-0.16, 103.53], "nice": false, "zero": false}, "axis": null}}},
    {"data": {"values": [{}]}, "mark": {"type": "rule", "color": "#6EF56E", "strokeWidth": 4},
     "encoding": {"y": {"datum": 15.51, "type": "quantitative", "scale": {"domain": [-0.16, 103.53], "nice": false, "zero": false}, "axis": null}}},
    {"data": {"values": [{}]}, "mark": {"type": "point", "shape": "M-1,-0.271L0.467,-0.271L0.467,-0.538L1,0L0.467,0.538L0.467,0.271L-1,0.271Z", "size": 50625, "filled": true, "fill": "#FFF2CC", "stroke": "#FFC000", "strokeWidth": 2, "opacity": 1},
     "encoding": {
      "x": {"datum": 6764, "type": "quantitative", "scale": {"domain": [0, 7000], "reverse": true, "nice": false}},
      "y": {"datum": 88.55, "type": "quantitative", "scale": {"domain": [-0.16, 103.53], "nice": false, "zero": false}, "axis": null}
     }},
    {"data": {"values": [{}]}, "mark": {"type": "text", "text": "長寿化", "fontSize": 30, "color": "#D9262B", "align": "center", "baseline": "middle"},
     "encoding": {
      "x": {"datum": 7274, "type": "quantitative", "scale": {"domain": [0, 7000], "reverse": true, "nice": false}},
      "y": {"datum": 88.5, "type": "quantitative", "scale": {"domain": [-0.16, 103.53], "nice": false, "zero": false}, "axis": null}
     }},
    {"data": {"values": [{}]}, "mark": {"type": "rule", "color": "#FF6600", "strokeWidth": 7.5, "strokeCap": "butt"},
     "encoding": {
      "x": {"datum": 8205, "type": "quantitative", "scale": {"domain": [0, 7000], "reverse": true, "nice": false}},
      "x2": {"datum": 5976},
      "y": {"datum": 44.85, "type": "quantitative", "scale": {"domain": [-0.16, 103.53], "nice": false, "zero": false}, "axis": null},
      "y2": {"datum": 62.22}
     }},
    {"data": {"values": [{}]}, "mark": {"type": "point", "shape": "M0,-1L0.885,1L-0.885,1Z", "size": 676, "angle": 34, "filled": true, "fill": "#FF6600", "strokeWidth": 0, "opacity": 1},
     "encoding": {
      "x": {"datum": 5798, "type": "quantitative", "scale": {"domain": [0, 7000], "reverse": true, "nice": false}},
      "y": {"datum": 63.62, "type": "quantitative", "scale": {"domain": [-0.16, 103.53], "nice": false, "zero": false}, "axis": null}
     }}
   ]
  },
  {
   "width": 240.6, "height": 675,
   "resolve": {"scale": {"y": "independent"}},
   "layer": [
    {"data": {"name": "pop"}, "transform": [{"filter": "datum.year == 2014 && datum.sex == 'F'"}],
     "mark": {"type": "bar", "stroke": "#000000", "strokeWidth": 1.5},
     "encoding": {
      "y": {"field": "age", "type": "ordinal", "sort": "descending", "scale": {"paddingInner": 0, "paddingOuter": 0}, "axis": null},
      "x": {"field": "pop", "type": "quantitative", "scale": {"domain": [0, 7000], "nice": false}, "axis": {"values": [3500, 7000], "title": null}},
      "fill": {"condition": [{"test": "datum.age < 15", "value": "#FFD966"}, {"test": "datum.age >= 65", "value": "#F4B183"}], "value": "#C55A11"}
     }},
    {"data": {"values": [{}]}, "mark": {"type": "rule", "color": "#6EF56E", "strokeWidth": 4},
     "encoding": {
      "x": {"datum": 0, "type": "quantitative", "scale": {"domain": [0, 7000], "nice": false}},
      "x2": {"datum": 7495},
      "y": {"datum": 76.03, "type": "quantitative", "scale": {"domain": [-0.16, 103.53], "nice": false, "zero": false}, "axis": null}}},
    {"data": {"values": [{}]}, "mark": {"type": "rule", "color": "#6EF56E", "strokeWidth": 4},
     "encoding": {
      "x": {"datum": 0, "type": "quantitative", "scale": {"domain": [0, 7000], "nice": false}},
      "x2": {"datum": 7495},
      "y": {"datum": 15.51, "type": "quantitative", "scale": {"domain": [-0.16, 103.53], "nice": false, "zero": false}, "axis": null}}},
    {"data": {"values": [{}]}, "mark": {"type": "rect", "fill": "#FFFFFF", "stroke": "#1E7F1E", "strokeWidth": 1.5, "cornerRadius": 17},
     "encoding": {
      "x": {"datum": -2822, "type": "quantitative", "scale": {"domain": [0, 7000], "nice": false}},
      "x2": {"datum": 3142},
      "y": {"datum": 68.35, "type": "quantitative", "scale": {"domain": [-0.16, 103.53], "nice": false, "zero": false}, "axis": null},
      "y2": {"datum": 63.13}
     }},
    {"data": {"values": [{}]}, "mark": {"type": "text", "text": "団塊の世代", "fontSize": 23, "color": "#D9262B", "align": "center", "baseline": "middle"},
     "encoding": {
      "x": {"datum": 160, "type": "quantitative", "scale": {"domain": [0, 7000], "nice": false}},
      "y": {"datum": 65.74, "type": "quantitative", "scale": {"domain": [-0.16, 103.53], "nice": false, "zero": false}, "axis": null}
     }},
    {"data": {"values": [{}]}, "mark": {"type": "text", "text": "平成26年（2014年）", "fontSize": 34, "fontWeight": "bold", "color": "#000000", "align": "center", "baseline": "middle"},
     "encoding": {
      "x": {"datum": -512, "type": "quantitative", "scale": {"domain": [0, 7000], "nice": false}},
      "y": {"datum": 108.0, "type": "quantitative", "scale": {"domain": [-0.16, 103.53], "nice": false, "zero": false}, "axis": null}
     }}
   ]
  }
]
}
